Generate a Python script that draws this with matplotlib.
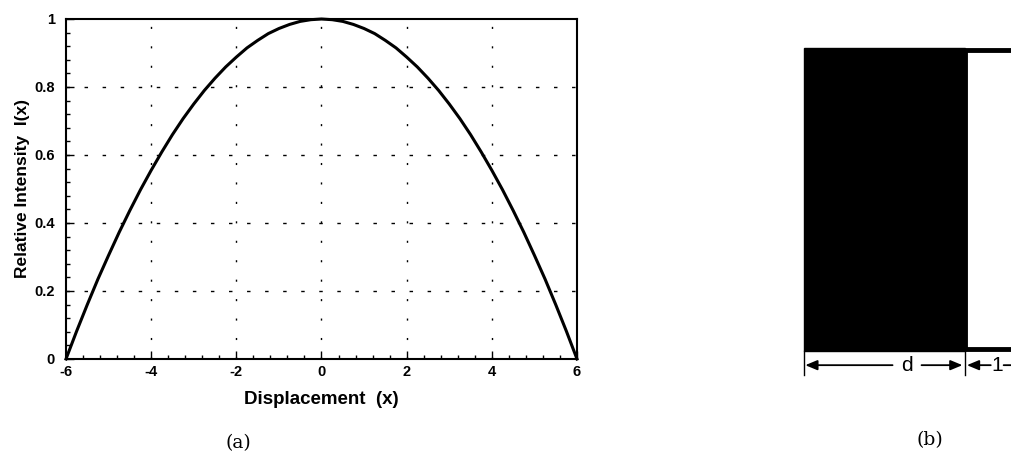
import matplotlib
matplotlib.use("Agg")
import matplotlib.pyplot as plt
from matplotlib.patches import Rectangle
from matplotlib.ticker import MultipleLocator

plt.rcParams["axes.unicode_minus"] = False

# panel (a): relative intensity vs displacement
displacement = [-6.0, -5.75, -5.5, -5.25, -5.0, -4.75, -4.5, -4.25, -4.0, -3.75, -3.5, -3.25,
                -3.0, -2.75, -2.5, -2.25, -2.0, -1.75, -1.5, -1.25, -1.0, -0.75, -0.5, -0.25,
                0.0, 0.25, 0.5, 0.75, 1.0, 1.25, 1.5, 1.75, 2.0, 2.25, 2.5, 2.75,
                3.0, 3.25, 3.5, 3.75, 4.0, 4.25, 4.5, 4.75, 5.0, 5.25, 5.5, 5.75, 6.0]
intensity = [0.0, 0.082, 0.16, 0.235, 0.305, 0.373, 0.437, 0.498, 0.555, 0.609, 0.66, 0.707,
             0.75, 0.79, 0.826, 0.859, 0.888, 0.915, 0.937, 0.957, 0.972, 0.984, 0.993, 0.998,
             1.0, 0.998, 0.993, 0.984, 0.972, 0.957, 0.937, 0.915, 0.888, 0.859, 0.826, 0.79,
             0.75, 0.707, 0.66, 0.609, 0.555, 0.498, 0.437, 0.373, 0.305, 0.235, 0.16, 0.082, 0.0]
x_ticks = [-6, -4, -2, 0, 2, 4, 6]
y_ticks = [0, 0.2, 0.4, 0.6, 0.8, 1]
y_tick_labels = ["0", "0.2", "0.4", "0.6", "0.8", "1"]

# panel (b): opaque part of width d followed by a slit of width 1
d_width = 2.5
slit_width = 1.0
mask_height = 4.7

BOLD = dict(family="Liberation Sans", weight="bold")

fig = plt.figure(figsize=(10.12, 4.58), dpi=100)

# ---- (a) ----
ax = fig.add_axes([66 / 1012, 99 / 458, 511 / 1012, 340 / 458])
ax.plot(displacement, intensity, color="black", lw=2.2, clip_on=False, zorder=3,
        solid_joinstyle="round")
ax.set_xlim(-6, 6)
ax.set_ylim(0, 1)
ax.set_xticks(x_ticks)
ax.set_yticks(y_ticks)
ax.set_yticklabels(y_tick_labels)
ax.xaxis.set_minor_locator(MultipleLocator(0.4))
ax.yaxis.set_minor_locator(MultipleLocator(0.04))
ax.tick_params(which="both", direction="in", top=False, right=False, width=1.0)
ax.tick_params(which="major", length=6)
ax.tick_params(which="minor", length=3)
ax.tick_params(axis="x", which="major", pad=4)
ax.tick_params(axis="y", which="major", pad=8)
for lab in ax.get_xticklabels() + ax.get_yticklabels():
    lab.set_fontproperties(BOLD)
    lab.set_fontsize(10.5)
for spine in ax.spines.values():
    spine.set_linewidth(1.5)

for xv in x_ticks[1:-1]:
    ax.axvline(xv, color="black", lw=1.0, linestyle=(0, (1.5, 12.5)), zorder=1)
for yv in y_ticks[1:-1]:
    ax.axhline(yv, color="black", lw=1.0, linestyle=(0, (2.5, 10.5)), zorder=1)

ax.set_xlabel("Displacement  (x)", fontsize=13.5, labelpad=9, **BOLD)
ax.set_ylabel("Relative Intensity  I(x)", fontsize=12.5, labelpad=3, **BOLD)
fig.text(238 / 1012, 1 - 443 / 458, "(a)", ha="center", va="center",
         family="DejaVu Serif", fontsize=13.5)

# ---- (b) ----
px = 64.4  # pixels per unit in panel (b)
bx = fig.add_axes([(804 - 0.5 * px) / 1012, 58 / 458, 4.6 * px / 1012, 380 / 458])
bx.set_xlim(-0.5, 4.1)
bx.set_ylim(-49 / px, 331 / px)
bx.axis("off")

bx.add_patch(Rectangle((0, 0), d_width, mask_height, facecolor="black", edgecolor="black", lw=1))
bx.add_patch(Rectangle((d_width, 0.025), slit_width, mask_height - 0.05,
                       facecolor="white", edgecolor="black", lw=3.5))

tick_bottom = -0.37
for xv in [0, d_width, d_width + slit_width]:
    bx.plot([xv, xv], [0, tick_bottom], color="black", lw=1.0)

y_dim = -0.22
arrow = dict(arrowstyle="-|>,head_length=0.6,head_width=0.25", color="black", lw=1.3,
             mutation_scale=12, shrinkA=0, shrinkB=0)
bx.text(d_width * 0.64, y_dim, "d", ha="center", va="center", family="Liberation Sans", fontsize=15)
bx.annotate("", xy=(0.02, y_dim), xytext=(d_width * 0.55, y_dim), arrowprops=arrow)
bx.annotate("", xy=(d_width - 0.04, y_dim), xytext=(d_width * 0.73, y_dim), arrowprops=arrow)
mid = d_width + slit_width / 2
bx.text(mid, y_dim, "1", ha="center", va="center", family="Liberation Sans", fontsize=15)
bx.annotate("", xy=(d_width + 0.03, y_dim), xytext=(mid - 0.1, y_dim), arrowprops=arrow)
bx.annotate("", xy=(d_width + slit_width - 0.03, y_dim), xytext=(mid + 0.1, y_dim), arrowprops=arrow)

fig.text(930 / 1012, 1 - 440 / 458, "(b)", ha="center", va="center",
         family="DejaVu Serif", fontsize=13.5)

fig.savefig("out.png", dpi=100)
